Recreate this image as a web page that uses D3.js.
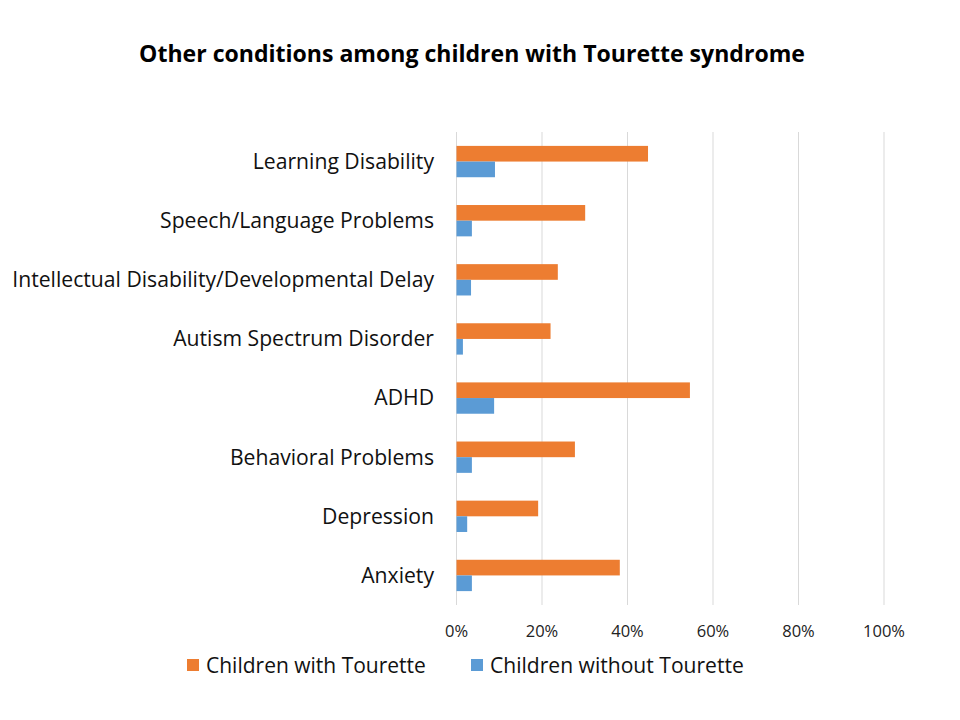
<!DOCTYPE html>
<html>
<head>
<meta charset="utf-8">
<script src="https://cdn.jsdelivr.net/npm/d3@7"></script>
<style>
  body { margin: 0; background: #fff; }
  svg { display: block; font-family: "Open Sans", "Noto Sans", sans-serif; }
</style>
</head>
<body>
<svg id="chart" width="960" height="720"></svg>
<script>
const categories = [
  'Learning Disability',
  'Speech/Language Problems',
  'Intellectual Disability/Developmental Delay',
  'Autism Spectrum Disorder',
  'ADHD',
  'Behavioral Problems',
  'Depression',
  'Anxiety'
];
const withTourette = [44.8, 30.1, 23.7, 22.0, 54.6, 27.7, 19.1, 38.2];
const withoutTourette = [9.0, 3.6, 3.4, 1.5, 8.8, 3.6, 2.5, 3.6];
const seriesNames = ['Children with Tourette', 'Children without Tourette'];
const tickValues = [0, 20, 40, 60, 80, 100];

const colors = ['#ED7D31', '#5B9BD5'];

const svg = d3.select('#chart');
const margin = { left: 456.5, right: 76, top: 132, bottom: 115 };
const width = 960, height = 720;

const x = d3.scaleLinear().domain([0, 100]).range([margin.left, width - margin.right]);
const y = d3.scaleBand().domain(categories).range([margin.top, height - margin.bottom]).paddingInner(0.47).paddingOuter(0.235);
const sub = d3.scaleBand().domain([0, 1]).range([0, y.bandwidth()]);

// shrink/grow font so the text takes the target width
function fit(sel, target) {
  const w = sel.node().getComputedTextLength();
  const fs = parseFloat(sel.attr('font-size'));
  sel.attr('font-size', fs * target / w);
}

// title
const title = svg.append('text')
  .attr('x', 472).attr('y', 62)
  .attr('text-anchor', 'middle')
  .attr('font-weight', 'bold')
  .attr('font-size', 22)
  .attr('fill', '#000')
  .text('Other conditions among children with Tourette syndrome');
fit(title, 666);

// gridlines
svg.append('g')
  .selectAll('line')
  .data(tickValues)
  .join('line')
  .attr('x1', d => x(d)).attr('x2', d => x(d))
  .attr('y1', margin.top).attr('y2', height - margin.bottom)
  .attr('stroke', '#d9d9d9')
  .attr('stroke-width', 1);

// tick labels
svg.append('g')
  .selectAll('text')
  .data(tickValues)
  .join('text')
  .attr('x', d => x(d))
  .attr('y', 631)
  .attr('dy', '0.35em')
  .attr('text-anchor', 'middle')
  .attr('font-size', 16.5)
  .attr('fill', '#222')
  .text(d => d + '%');

// bars
const series = [withTourette, withoutTourette];
series.forEach((vals, s) => {
  svg.append('g')
    .selectAll('rect')
    .data(categories)
    .join('rect')
    .attr('x', x(0))
    .attr('y', d => y(d) + sub(s))
    .attr('width', (d, i) => x(vals[i]) - x(0))
    .attr('height', sub.bandwidth())
    .attr('fill', colors[s]);
});

// category labels
const labels = svg.append('g')
  .selectAll('text')
  .data(categories)
  .join('text')
  .attr('x', 434)
  .attr('y', d => y(d) + y.bandwidth() / 2)
  .attr('dy', '0.35em')
  .attr('text-anchor', 'end')
  .attr('font-size', 18)
  .attr('fill', '#111')
  .text(d => d);
const longest = labels.filter(d => d === categories[2]);
const lw = longest.node().getComputedTextLength();
labels.attr('font-size', 18 * 422 / lw);

// legend
const legendX = [187, 471];
const legendW = [220, 254];
const legend = svg.append('g');
seriesNames.forEach((name, i) => {
  legend.append('rect')
    .attr('x', legendX[i]).attr('y', 659)
    .attr('width', 12).attr('height', 12)
    .attr('fill', colors[i]);
  const t = legend.append('text')
    .attr('x', legendX[i] + 19).attr('y', 666)
    .attr('dy', '0.35em')
    .attr('font-size', 18)
    .attr('fill', '#111')
    .text(name);
  fit(t, legendW[i]);
});
</script>
</body>
</html>
